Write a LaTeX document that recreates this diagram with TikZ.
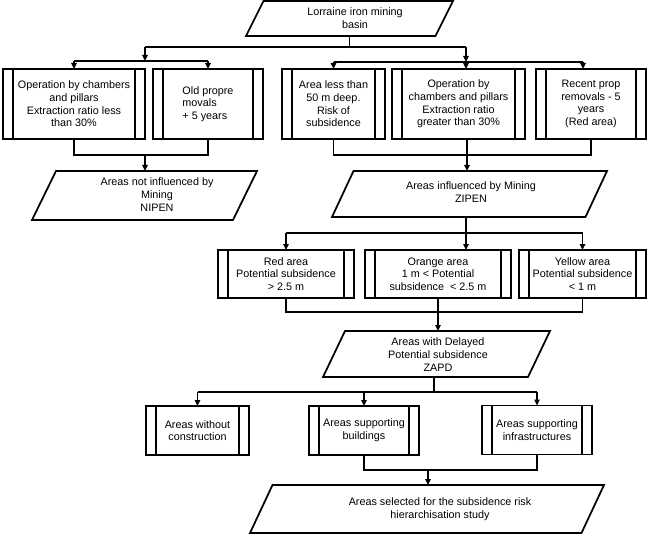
\documentclass[tikz,border=0pt]{standalone}
\usepackage{fontspec}
\setmainfont{Liberation Sans}
\usetikzlibrary{arrows.meta}
\newcommand\dfont{\fontsize{10.8}{12.7}\selectfont}
\newcommand\drawpara[2]{\draw[ln] (#1.south west) -- ([xshift=#2pt]#1.north west) -- (#1.north east) -- ([xshift=-#2pt]#1.south east) -- cycle;}
\begin{document}
\begin{tikzpicture}[x=1pt,y=-1pt,
  ln/.style={line width=1.75pt},
  arr/.style={ln,-{Triangle[length=6pt,width=5.5pt]}},
  proc/.style={draw,ln,rectangle,inner sep=0pt,outer sep=0pt,align=center,font=\dfont,
    path picture={\draw[line width=1.75pt]
      ([xshift=10pt]path picture bounding box.north west) -- ([xshift=10pt]path picture bounding box.south west)
      ([xshift=-10pt]path picture bounding box.north east) -- ([xshift=-10pt]path picture bounding box.south east);}},
  pshape/.style={rectangle,inner sep=0pt,outer sep=0pt},
  ptext/.style={align=center,font=\dfont,inner sep=0pt,outer sep=0pt},
]
\useasboundingbox (0,0) rectangle (653,540);

% parallelograms
\node[pshape,minimum width=207pt,minimum height=35pt] (lorraine) at (349.5,18.5) {};
\drawpara{lorraine}{17.5}
\node[ptext] (lorraineT) at (355,18) {Lorraine iron mining\\basin};

\node[pshape,minimum width=225pt,minimum height=49pt] (nipen) at (144.5,195.5) {};
\drawpara{nipen}{24}
\node[ptext] (nipenT) at (157,194.5) {Areas not influenced by\\Mining\\NIPEN};

\node[pshape,minimum width=275pt,minimum height=46pt] (zipen) at (469.5,194) {};
\drawpara{zipen}{21.5}
\node[ptext] (zipenT) at (471,192) {Areas influenced by Mining\\ZIPEN};

\node[pshape,minimum width=227pt,minimum height=46pt] (zapd) at (436.5,354) {};
\drawpara{zapd}{22}
\node[ptext] (zapdT) at (438,354.5) {Areas with Delayed\\Potential subsidence\\ZAPD};

\node[pshape,minimum width=354pt,minimum height=48pt] (final) at (427,509) {};
\drawpara{final}{22.5}
\node[ptext] (finalT) at (440,509.5) {Areas selected for the subsidence risk\\hierarchisation study};

% process boxes
\node[proc,minimum width=142pt,minimum height=70pt] (b1) at (74,104) {Operation by chambers\\and pillars\\Extraction ratio less\\than 30\%};
\node[proc,minimum width=110pt,minimum height=70pt,align=left] (b2) at (208,104) {Old propre\\movals\\+ 5 years};
\node[proc,minimum width=103pt,minimum height=70pt] (b3) at (333.5,104) {Area less than\\50 m deep.\\Risk of\\subsidence};
\node[proc,minimum width=133pt,minimum height=70pt] (b4) at (458.5,104) {Operation by\\chambers and pillars\\Extraction ratio\\greater than 30\%};
\node[proc,minimum width=110pt,minimum height=70pt] (b5) at (591,104) {Recent prop\\removals - 5\\years\\(Red area)};

\node[proc,minimum width=136pt,minimum height=48pt] (red) at (286,274) {Red area\\Potential subsidence\\> 2.5 m};
\node[proc,minimum width=146pt,minimum height=48pt] (orange) at (438,274) {Orange area\\1 m < Potential\\subsidence \ < 2.5 m};
\node[proc,minimum width=127pt,minimum height=48pt] (yellow) at (582.5,274) {Yellow area\\Potential subsidence\\< 1 m};

\node[proc,minimum width=103pt,minimum height=49pt] (noc) at (197.5,430.5) {Areas without\\construction};
\node[proc,minimum width=110pt,minimum height=49pt] (bld) at (364,430.5) {Areas supporting\\buildings};
\node[proc,minimum width=110pt,minimum height=49pt] (inf) at (537,430) {Areas supporting\\infrastructures};

% junction coordinates
\coordinate (t0) at (349.5,47);
\coordinate (tl) at (145,47);
\coordinate (tr) at (466,47);
\coordinate (lm) at (145,61);
\coordinate (l1) at (74,61);
\coordinate (l2) at (208,61);
\coordinate (rm) at (466,62);
\coordinate (r3) at (333.5,62);
\coordinate (r5) at (583,62);
\coordinate (lo) at (145,155);
\coordinate (ro) at (467,155);
\coordinate (zm) at (466,233);
\coordinate (zl) at (286,233);
\coordinate (zr) at (582.5,233);
\coordinate (mo) at (438,312);
\coordinate (am) at (434,392);
\coordinate (al) at (197.5,392);
\coordinate (ab) at (364,392);
\coordinate (ar) at (537,392);
\coordinate (fo) at (428,470);

% connectors: top
\draw[ln] (lorraine.south) -- (t0);
\draw[ln] (tl) -- (tr);
\draw[arr] (tl) -- (lm);
\draw[arr] (tr) -- (rm);
\draw[ln] (l1) -- (l2);
\draw[arr] (l1) -- (b1.north);
\draw[arr] (l2) -- (b2.north);
\draw[ln] (r3) -- (r5);
\draw[arr] (r3) -- (b3.north);
\draw[arr] (rm) -- (rm |- b4.north);
\draw[arr] (r5) -- (r5 |- b5.north);

% to NIPEN / ZIPEN
\draw[ln] (b1.south) |- (lo) -| (b2.south);
\draw[arr] (lo) -- (lo |- nipen.north);
\draw[ln] (b3.south) |- (ro) -| (b5.south);
\draw[ln] (ro |- b4.south) -- (ro);
\draw[arr] (ro) -- (ro |- zipen.north);

% ZIPEN to areas
\draw[ln] (zm |- zipen.south) -- (zm);
\draw[ln] (zl) -- (zr);
\draw[arr] (zl) -- (red.north);
\draw[arr] (zm) -- (zm |- orange.north);
\draw[arr] (zr) -- (yellow.north);

% to ZAPD
\draw[ln] (red.south) |- (mo) -| (yellow.south);
\draw[ln] (orange.south) -- (mo);
\draw[arr] (mo) -- (mo |- zapd.north);

% ZAPD to bottom boxes
\draw[ln] (am |- zapd.south) -- (am);
\draw[ln] (al) -- (ar);
\draw[arr] (al) -- (noc.north);
\draw[arr] (ab) -- (bld.north);
\draw[arr] (ar) -- (inf.north);

% to final
\draw[ln] (bld.south) |- (fo) -| (inf.south);
\draw[arr] (fo) -- (fo |- final.north);
\end{tikzpicture}
\end{document}
